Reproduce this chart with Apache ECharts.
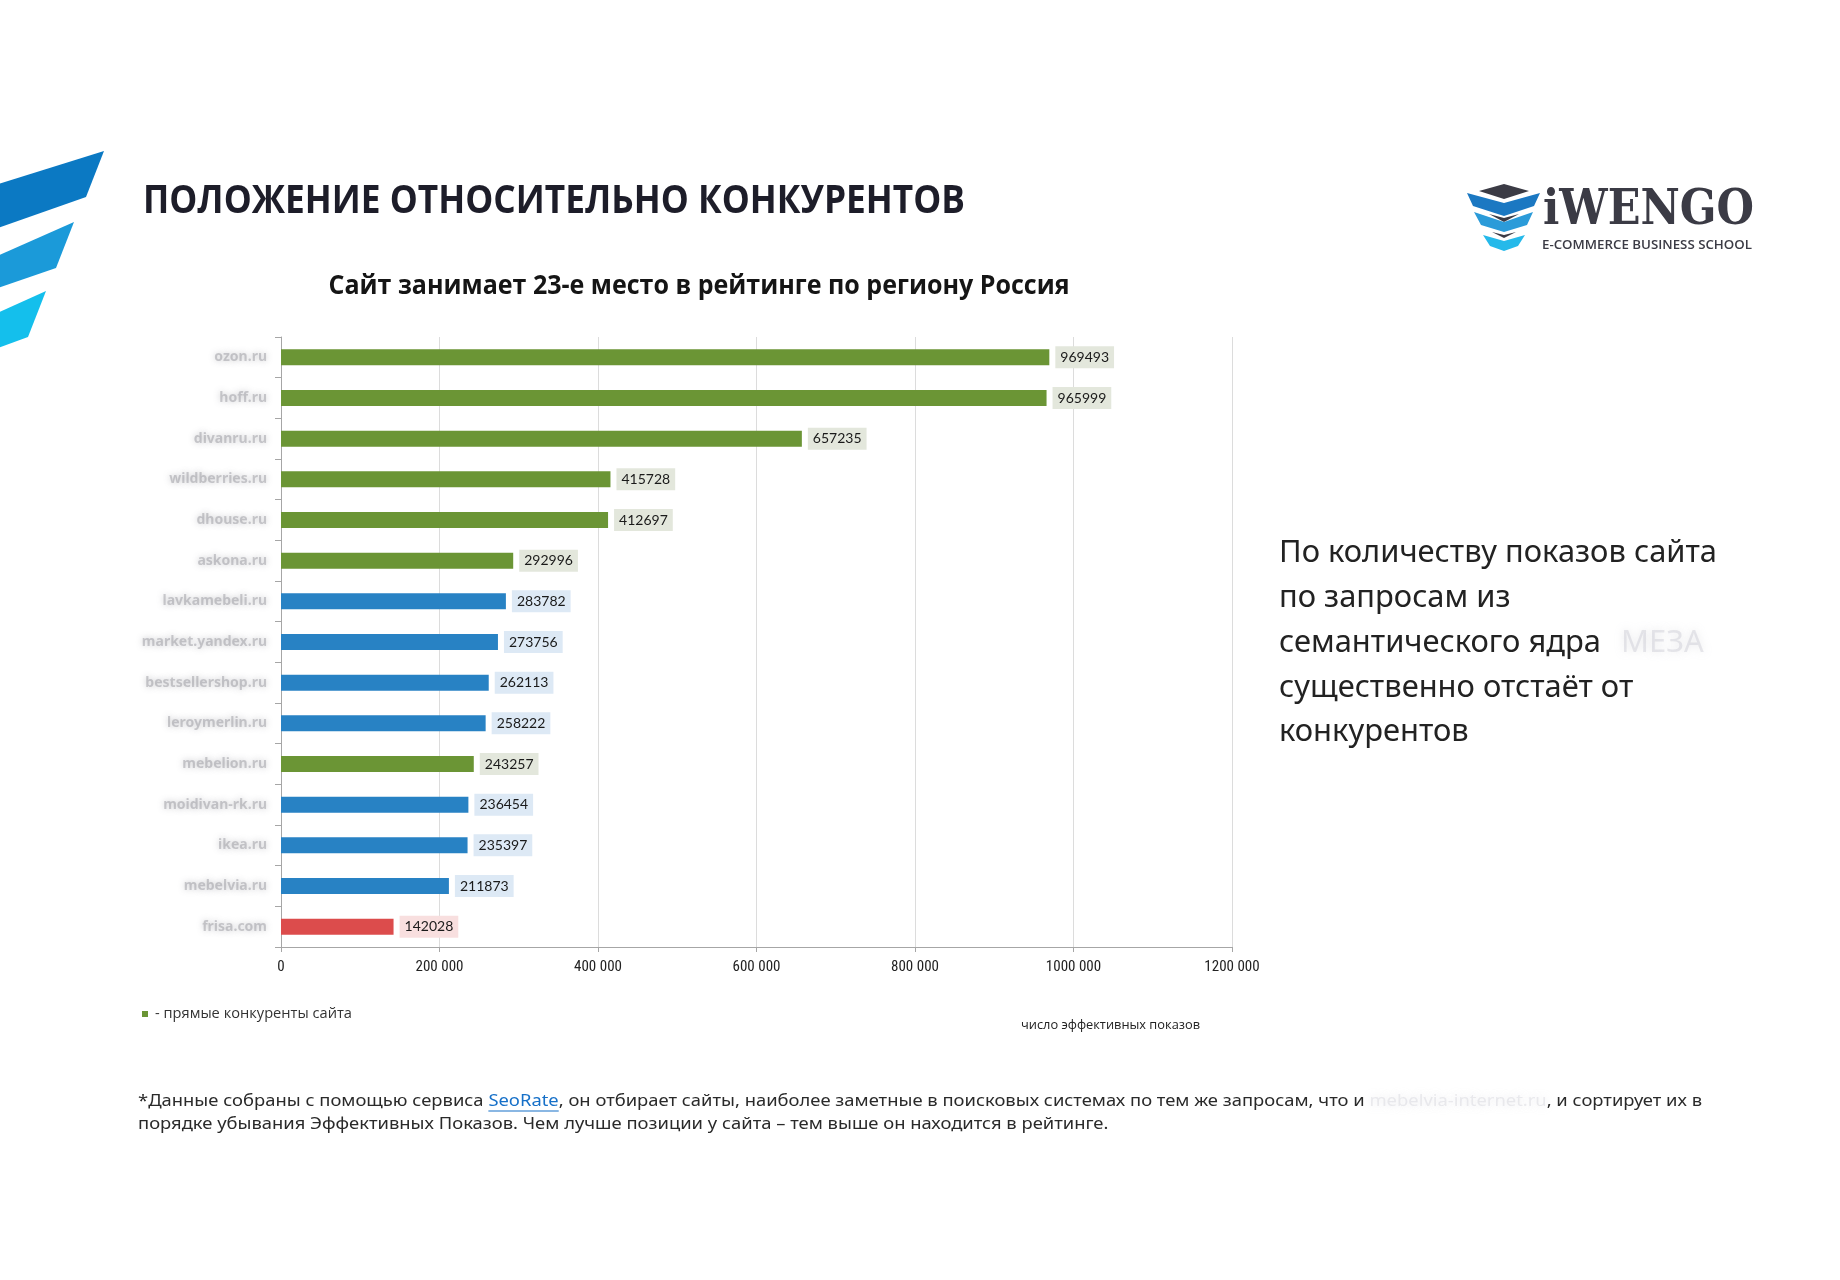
<!DOCTYPE html>
<html>
<head>
<meta charset="utf-8">
<script src="https://cdn.jsdelivr.net/npm/echarts@6/dist/echarts.min.js"></script>
<style>
html,body{margin:0;padding:0;background:#fff;}
#chart{width:1840px;height:1280px;}
</style>
</head>
<body>
<div id="chart"></div>
<script>
// ---- data ----
const categories = ['ozon.ru','hoff.ru','divanru.ru','wildberries.ru','dhouse.ru','askona.ru','lavkamebeli.ru','market.yandex.ru','bestsellershop.ru','leroymerlin.ru','mebelion.ru','moidivan-rk.ru','ikea.ru','mebelvia.ru','frisa.com'];
const values = [969493, 965999, 657235, 415728, 412697, 292996, 283782, 273756, 262113, 258222, 243257, 236454, 235397, 211873, 142028];
const groups = ['direct','direct','direct','direct','direct','direct','other','other','other','other','direct','other','other','other','own'];
const tickLabels = ['0','200 000','400 000','600 000','800 000','1000 000','1200 000'];
const titleText = 'ПОЛОЖЕНИЕ ОТНОСИТЕЛЬНО КОНКУРЕНТОВ';
const subtitleText = 'Сайт занимает 23-е место в рейтинге по региону Россия';
const sideLines = ['По количеству показов сайта','по запросам из','семантического ядра','существенно отстаёт от','конкурентов'];
const legendText = '- прямые конкуренты сайта';
const axisNameText = 'число эффективных показов';

const barColor = {direct:'#6b9535', other:'#2882c4', own:'#dc4c4c'};
const labelBg = {direct:'#e3e7dc', other:'#dde9f5', own:'#f8dfdf'};

// ---- text measuring helper ----
const mctx = document.createElement('canvas').getContext('2d');
function tw(text, font){ mctx.font = font; return mctx.measureText(text).width; }
function fitText(text, font, width){ return width / tw(text, font); }

const chart = echarts.init(document.getElementById('chart'), null, {renderer:'canvas'});

const blurFill = 'rgba(125,125,135,0.38)';
const blurShadow = 'rgba(110,110,120,1)';

const graphics = [];
// decorative stripes on the left
graphics.push({type:'polygon', shape:{points:[[-5,185],[104,151],[86,197],[-5,229]]}, style:{fill:'#0b79c3'}});
graphics.push({type:'polygon', shape:{points:[[-5,257],[74,222],[56,268],[-5,289]]}, style:{fill:'#1b9ad9'}});
graphics.push({type:'polygon', shape:{points:[[-5,314],[46,291],[28,337],[-5,349]]}, style:{fill:'#14bfec'}});

// title
const titleFont = 'bold 40px "Open Sans"';
graphics.push({type:'text', x:143, y:202, scaleX: fitText(titleText, titleFont, 822),
  style:{text:titleText, font:titleFont, fill:'#1d1d29', align:'left', verticalAlign:'middle', textAlign:'left', textVerticalAlign:'middle'}});
// subtitle
const subFont = 'bold 26px "Open Sans"';
graphics.push({type:'text', x:699, y:287, scaleX: fitText(subtitleText, subFont, 741),
  style:{text:subtitleText, font:subFont, fill:'#151515', align:'center', verticalAlign:'middle', textAlign:'center', textVerticalAlign:'middle'}});

// logo icon
const dark = '#3b3b45';
graphics.push({type:'polygon', shape:{points:[[1479,191],[1504,184],[1529,191],[1504,199]]}, style:{fill:dark}});
graphics.push({type:'polygon', shape:{points:[[1467,193],[1504,203],[1540,193],[1534,206],[1504,216],[1473,206]]}, style:{fill:'#1b78c2'}});
graphics.push({type:'polygon', shape:{points:[[1489,214],[1504,218],[1519,214],[1504,222]]}, style:{fill:dark}});
graphics.push({type:'polygon', shape:{points:[[1474,212],[1504,222],[1533,212],[1527,225],[1504,232],[1481,225]]}, style:{fill:'#2b9bd9'}});
graphics.push({type:'polygon', shape:{points:[[1492,232],[1504,235],[1516,232],[1504,238]]}, style:{fill:dark}});
graphics.push({type:'polygon', shape:{points:[[1483,235],[1504,241],[1525,235],[1518,246],[1504,251],[1490,246]]}, style:{fill:'#25b9ea'}});
const logoFont = 'bold 48px "DejaVu Serif"';
graphics.push({type:'text', x:1543, y:212, scaleX: fitText('iWENGO', logoFont, 211),
  style:{text:'iWENGO', font:logoFont, fill:dark, align:'left', verticalAlign:'middle', textAlign:'left', textVerticalAlign:'middle'}});
const logoSubFont = '600 12px "Open Sans"';
graphics.push({type:'text', x:1542, y:246, scaleX: fitText('E-COMMERCE BUSINESS SCHOOL', logoSubFont, 210),
  style:{text:'E-COMMERCE BUSINESS SCHOOL', font:logoSubFont, fill:dark, align:'left', verticalAlign:'middle', textAlign:'left', textVerticalAlign:'middle'}});

// right paragraph
const sideFont = '30px "Noto Sans"';
const sideScale = fitText(sideLines[0], sideFont, 438);
const sideY = [553, 598, 643, 688, 732];
sideLines.forEach((t, i) => {
  graphics.push({type:'text', x:1279, y:sideY[i], scaleX: sideScale,
    style:{text:t, font:sideFont, fill:'#222', align:'left', verticalAlign:'middle', textAlign:'left', textVerticalAlign:'middle'}});
});
// blurred word
graphics.push({type:'text', x:1621, y:643, scaleX: sideScale,
  style:{text:'МЕЗА', font:sideFont, fill:'rgba(190,190,200,0.35)', textShadowColor:'rgba(180,180,190,1)', textShadowBlur:9, align:'left', verticalAlign:'middle', textAlign:'left', textVerticalAlign:'middle'}});

// legend
graphics.push({type:'rect', shape:{x:142, y:1011, width:6, height:6}, style:{fill:'#6b9535'}});
const legFont = '15px "Open Sans"';
graphics.push({type:'text', x:155, y:1014, scaleX: fitText(legendText, legFont, 197),
  style:{text:legendText, font:legFont, fill:'#333', align:'left', verticalAlign:'middle', textAlign:'left', textVerticalAlign:'middle'}});
// axis name
const anFont = '500 13px "Open Sans"';
graphics.push({type:'text', x:1021, y:1025, scaleX: fitText(axisNameText, anFont, 179),
  style:{text:axisNameText, font:anFont, fill:'#222', align:'left', verticalAlign:'middle', textAlign:'left', textVerticalAlign:'middle'}});

// footnote
const fnFont = '17px "Noto Sans"';
const p1 = '*Данные собраны с помощью сервиса ';
const p2 = 'SeoRate';
const p3 = ', он отбирает сайты, наиболее заметные в поисковых системах по тем же запросам, что и ';
const p4 = 'mebelvia-internet.ru';
const p5 = ', и сортирует их в';
const line2 = 'порядке убывания Эффективных Показов. Чем лучше позиции у сайта – тем выше он находится в рейтинге.';
const full1 = tw(p1+p2+p3+p4+p5, fnFont);
const fnScale = 1564 / full1;
let cx = 0;
const fnChildren = [];
function addPiece(t, fill, extra){
  fnChildren.push({type:'text', x:cx, y:0, style:Object.assign({text:t, font:fnFont, fill:fill, align:'left', verticalAlign:'middle', textAlign:'left', textVerticalAlign:'middle'}, extra||{})});
  const start = cx;
  cx += tw(t, fnFont);
  return [start, cx];
}
addPiece(p1, '#2a2a2a');
const link = addPiece(p2, '#1670c8');
fnChildren.push({type:'line', shape:{x1:link[0], y1:10, x2:link[1], y2:10}, style:{stroke:'#1670c8', lineWidth:1.2}});
addPiece(p3, '#2a2a2a');
addPiece(p4, 'rgba(200,200,210,0.35)', {textShadowColor:'rgba(190,190,200,1)', textShadowBlur:8});
addPiece(p5, '#2a2a2a');
fnChildren.push({type:'text', x:0, y:23, style:{text:line2, font:fnFont, fill:'#2a2a2a', align:'left', verticalAlign:'middle', textAlign:'left', textVerticalAlign:'middle'}});
graphics.push({type:'group', x:138, y:1101, scaleX:fnScale, children:fnChildren});

const option = {
  backgroundColor:'#ffffff',
  animation:false,
  grid:{left:281, right:608, top:337, bottom:333, containLabel:false},
  xAxis:{
    type:'value', min:0, max:1200000, interval:200000,
    axisLine:{show:true, lineStyle:{color:'#a6a6a6', width:1}},
    axisTick:{show:true, length:5, lineStyle:{color:'#a6a6a6'}},
    splitLine:{show:true, lineStyle:{color:'#dcdcdc', width:1}},
    axisLabel:{margin:13, fontSize:15, fontFamily:'Roboto Condensed, Roboto', color:'#222',
      formatter:(v)=> tickLabels[Math.round(v/200000)]}
  },
  yAxis:{
    type:'category', data:categories, inverse:true,
    axisLine:{show:true, lineStyle:{color:'#a6a6a6', width:1}},
    axisTick:{show:true, length:6, alignWithLabel:false, lineStyle:{color:'#a6a6a6'}},
    splitLine:{show:false},
    axisLabel:{margin:14, fontSize:14, fontFamily:'Noto Sans', fontWeight:'bold', color:blurFill,
      textShadowColor:blurShadow, textShadowBlur:6}
  },
  series:[{
    type:'bar', barWidth:16,
    data: values.map((v,i)=>({value:v,
      itemStyle:{color:barColor[groups[i]]},
      label:{backgroundColor:labelBg[groups[i]]}})),
    label:{show:true, position:'right', distance:6, padding:[4,5,4,5],
      fontSize:14, fontFamily:'Lato', color:'#1a1a1a'}
  }],
  graphic: graphics
};
chart.setOption(option);
</script>
</body>
</html>
